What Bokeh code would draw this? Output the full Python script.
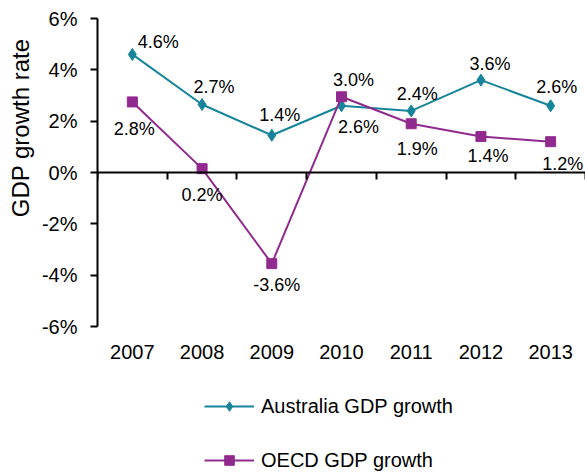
import math
from bokeh.plotting import figure
from bokeh.models import (Range1d, LinearAxis, FixedTicker, ColumnDataSource,
                          Legend, LegendItem, Title)
from bokeh.core.properties import value
from bokeh.embed import file_html
from bokeh.resources import INLINE

# ---- data ----
years = ["2007", "2008", "2009", "2010", "2011", "2012", "2013"]
aus_growth = [4.6, 2.65, 1.45, 2.6, 2.4, 3.6, 2.6]
oecd_growth = [2.75, 0.15, -3.55, 2.95, 1.9, 1.4, 1.2]
aus_labels = ["4.6%", "2.7%", "1.4%", "2.6%", "2.4%", "3.6%", "2.6%"]
oecd_labels = ["2.8%", "0.2%", "-3.6%", "3.0%", "1.9%", "1.4%", "1.2%"]
y_ticks = [-6, -4, -2, 0, 2, 4, 6]
y_tick_labels = ["-6%", "-4%", "-2%", "0%", "2%", "4%", "6%"]
series_names = ["Australia GDP growth", "OECD GDP growth"]
y_title = "GDP growth rate"

# ---- style: label offsets in screen pixels ----
aus_dx = [26, 12, 8, 17, 6, 9, 6]
aus_dy = [-12, -17, -20, 21, -17, -16, -19]
oecd_dx = [2, 0, 5, 12, 6, 7, 12]
oecd_dy = [27, 26, 21, -17, 25, 19, 22]

FONT = "Liberation Sans"
TEAL = "#16849A"
PURPLE = "#912A8E"

# ---- layout (pixels) ----
W, H = 585, 473
TOP, LEFT = 18, 97
AXIS_PX = 308            # pixel height of the -6%..6% axis
y_lo, y_hi = y_ticks[0], y_ticks[-1]
extra_px = H - TOP - AXIS_PX   # room under the axis for labels and legend
y_min = y_lo - extra_px * (y_hi - y_lo) / AXIS_PX

xpos = [i + 0.5 for i in range(len(years))]

aus_src = ColumnDataSource(dict(x=xpos, y=aus_growth, label=aus_labels, dx=aus_dx, dy=aus_dy))
oecd_src = ColumnDataSource(dict(x=xpos, y=oecd_growth, label=oecd_labels, dx=oecd_dx, dy=oecd_dy))

p = figure(width=W, height=H,
           x_range=Range1d(0, len(years)), y_range=Range1d(y_min, y_hi),
           x_axis_type=None, y_axis_type=None,
           toolbar_location=None, output_backend="svg",
           min_border_left=LEFT, min_border_right=0, min_border_top=TOP, min_border_bottom=0)
p.outline_line_color = None
p.background_fill_color = "white"
p.border_fill_color = "white"

# y axis
yax = LinearAxis(ticker=FixedTicker(ticks=y_ticks), bounds=(y_lo, y_hi),
                 major_label_overrides=dict(zip(y_ticks, y_tick_labels)))
yax.axis_line_color = "black"
yax.axis_line_width = 2
yax.major_tick_line_color = "black"
yax.major_tick_line_width = 2
yax.major_tick_out = 7
yax.major_tick_in = 0
yax.minor_tick_line_color = None
yax.major_label_standoff = 13
yax.major_label_text_font = FONT
yax.major_label_text_font_size = "20px"
yax.major_label_text_color = "black"
p.add_layout(yax, "left")

# y axis title
p.add_layout(Title(text=y_title, align="right", offset=20, standoff=9,
                   text_font=FONT, text_font_size="24px", text_font_style="normal",
                   text_color="black"), "left")

# year labels, under the bottom of the value axis
xlab = LinearAxis(ticker=FixedTicker(ticks=xpos), fixed_location=y_lo,
                  major_label_overrides=dict(zip(xpos, years)))
xlab.axis_line_color = None
xlab.major_tick_line_color = None
xlab.major_tick_out = 0
xlab.major_tick_in = 0
xlab.minor_tick_line_color = None
xlab.major_label_standoff = 18
xlab.major_label_text_font = FONT
xlab.major_label_text_font_size = "20px"
xlab.major_label_text_color = "black"
p.add_layout(xlab, "below")

# zero line axis with tick marks between categories
zax = LinearAxis(ticker=FixedTicker(ticks=[], minor_ticks=list(range(len(years) + 1))),
                 fixed_location=0)
zax.axis_line_color = "black"
zax.axis_line_width = 2
zax.major_tick_line_color = None
zax.minor_tick_line_color = "black"
zax.minor_tick_line_width = 2
zax.minor_tick_out = 7
zax.minor_tick_in = 0
p.add_layout(zax, "below")

# series
l1 = p.line("x", "y", source=aus_src, line_color=TEAL, line_width=2)
m1 = p.scatter("x", "y", source=aus_src, marker="diamond", size=12,
               fill_color=TEAL, line_color=TEAL)
l2 = p.line("x", "y", source=oecd_src, line_color=PURPLE, line_width=2)
m2 = p.scatter("x", "y", source=oecd_src, marker="square", size=10,
               fill_color=PURPLE, line_color=PURPLE)

for src in (aus_src, oecd_src):
    p.text("x", "y", text="label", x_offset="dx", y_offset="dy", source=src,
           text_font=value(FONT), text_font_size="18px", text_color="black",
           text_align="center", text_baseline="middle")

legend = Legend(items=[LegendItem(label=series_names[0], renderers=[l1, m1]),
                       LegendItem(label=series_names[1], renderers=[l2, m2])],
                location=(107, 1), orientation="vertical")
legend.border_line_color = None
legend.background_fill_alpha = 0
legend.padding = 0
legend.margin = 0
legend.spacing = 30
legend.glyph_width = 50
legend.glyph_height = 24
legend.label_height = 24
legend.label_standoff = 7
legend.label_text_font = FONT
legend.label_text_font_size = "20px"
legend.label_text_color = "black"
p.add_layout(legend, "center")

open("out.html", "w").write(file_html(p, INLINE))
